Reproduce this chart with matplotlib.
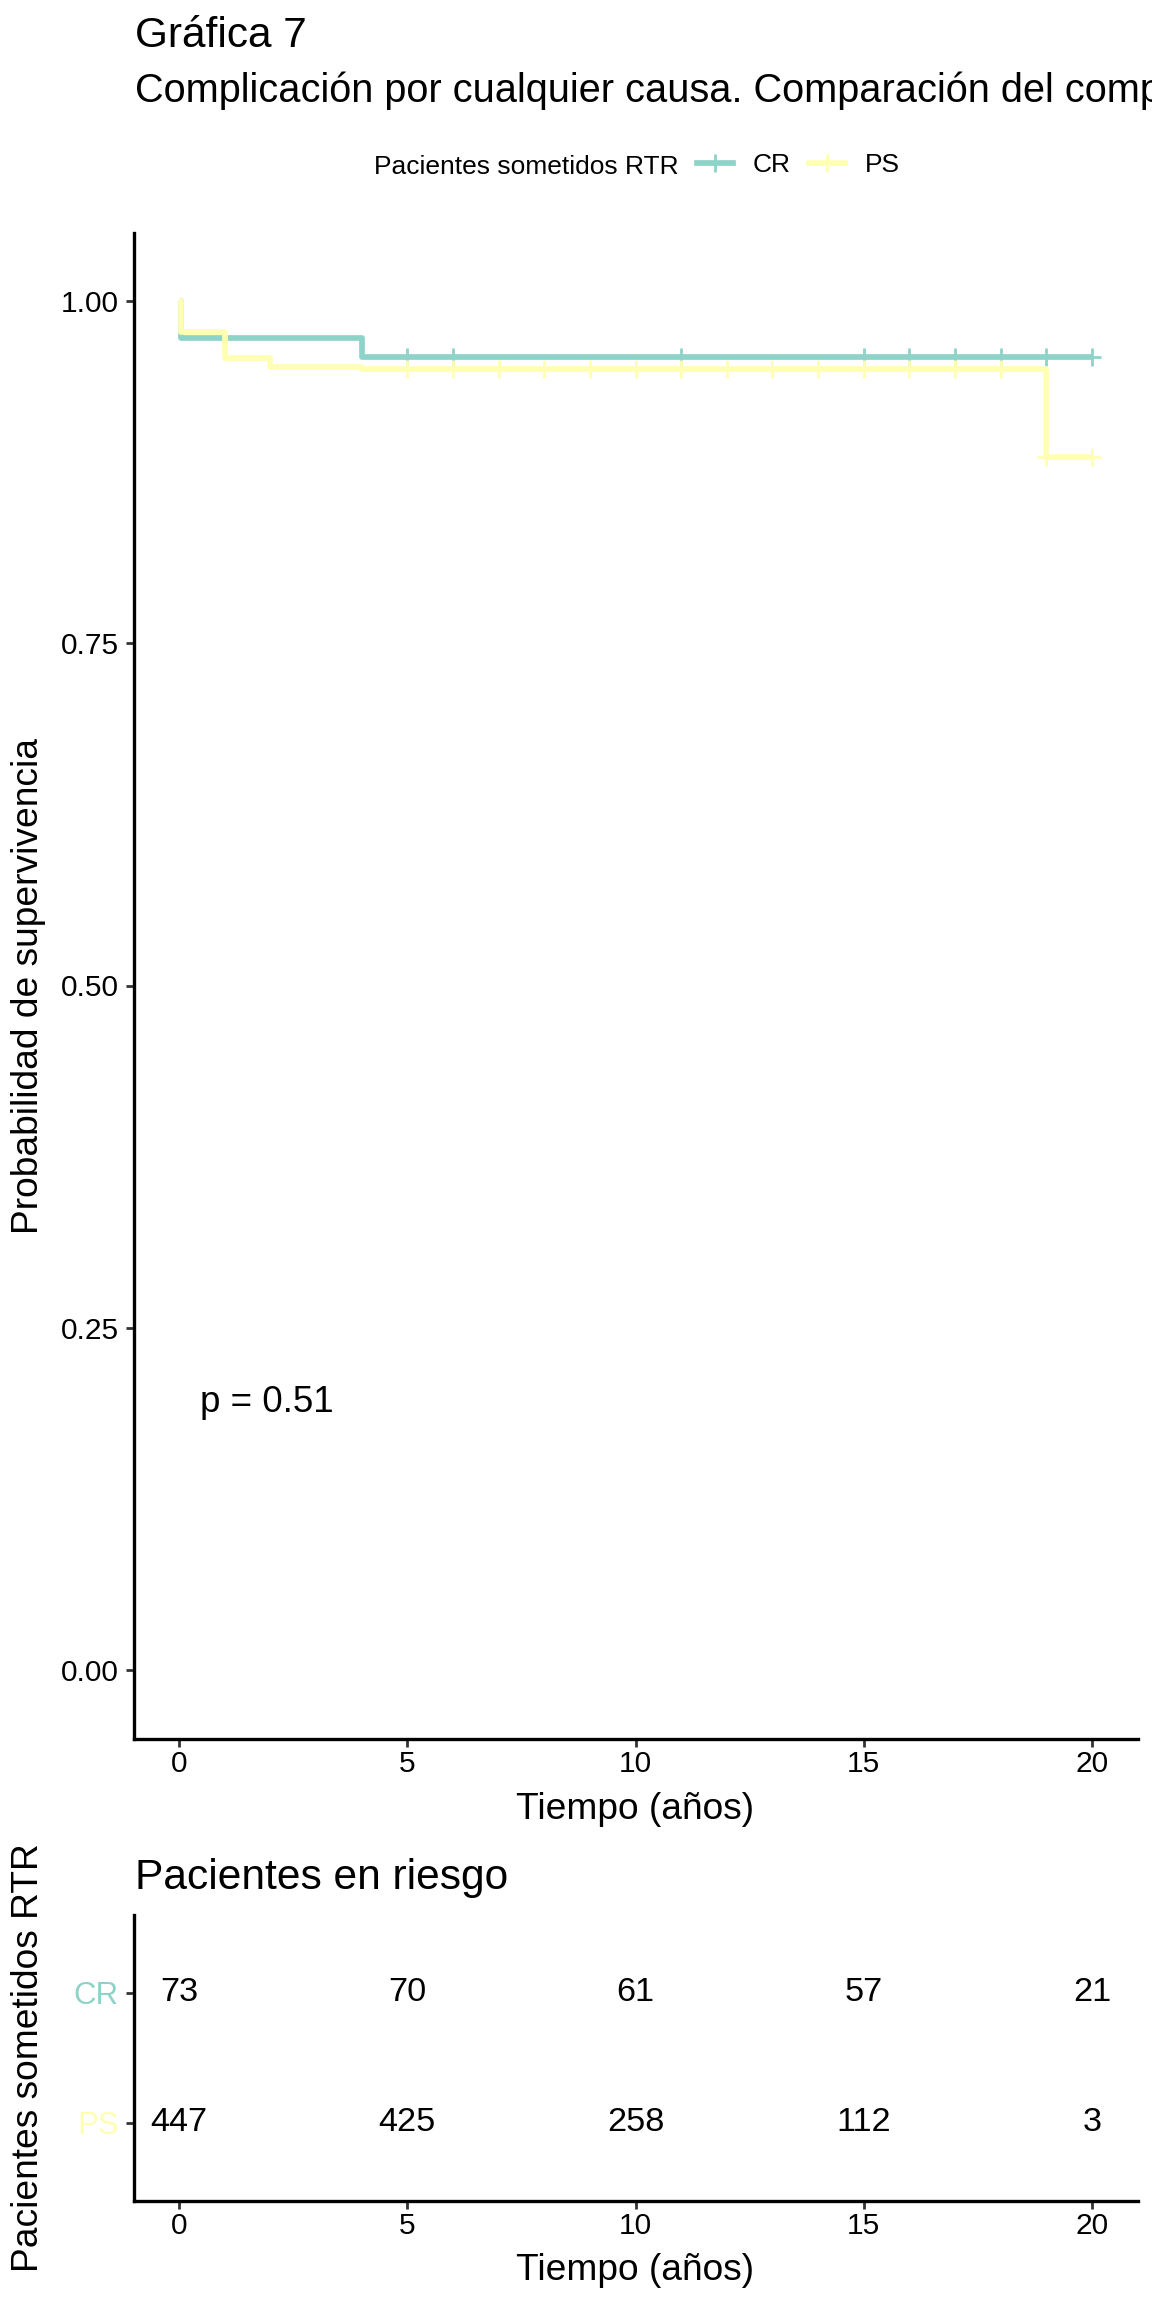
import numpy as np
import matplotlib
matplotlib.use("Agg")
import matplotlib.pyplot as plt
from matplotlib.lines import Line2D

plt.rcParams['font.family'] = ['Liberation Sans', 'DejaVu Sans']

# ---------------- data ----------------
groups = ["CR", "PS"]
colors = {"CR": "#8DD3C7", "PS": "#FFFFB3"}

cr_times = [0.0, 0.03, 4.0]
cr_surv = [1.0, 0.9726, 0.9589]
cr_censor = [5, 6, 11, 15, 16, 17, 18, 19, 20]

ps_times = [0.0, 0.03, 1.0, 2.0, 4.0, 19.0]
ps_surv = [1.0, 0.977, 0.9586, 0.952, 0.9500, 0.886]
ps_censor = [5, 6, 7, 8, 9, 10, 11, 12, 13, 14, 15, 16, 17, 18, 19, 20]

t_max = 20
risk_times = [0, 5, 10, 15, 20]
risk_cr = [73, 70, 61, 57, 21]
risk_ps = [447, 425, 258, 112, 3]

x_ticks = [0, 5, 10, 15, 20]
y_ticks = [0.00, 0.25, 0.50, 0.75, 1.00]
y_ticklabels = ["0.00", "0.25", "0.50", "0.75", "1.00"]

title = "Gráfica 7"
subtitle = "Complicación por cualquier causa. Comparación del comp"
legend_title = "Pacientes sometidos RTR"
pval_text = "p = 0.51"

# ---------------- figure ----------------
W, H = 1152, 2304
fig = plt.figure(figsize=(W / 100, H / 100), dpi=100)


def rect(l, t, r, b):
    return [l / W, 1 - b / H, (r - l) / W, (b - t) / H]


ax = fig.add_axes(rect(133.5, 232.5, 1137.5, 1738.5))
axr = fig.add_axes(rect(133.5, 1915, 1137.5, 2200.5))

lw = 4.1
series = {
    "CR": (cr_times, cr_surv, cr_censor),
    "PS": (ps_times, ps_surv, ps_censor),
}
for g in groups:
    t, s, cens = series[g]
    xs = list(t) + [t_max]
    ys = list(s) + [s[-1]]
    ax.step(xs, ys, where="post", color=colors[g], lw=lw, solid_capstyle="butt",
            zorder=3)
    idx = np.searchsorted(np.array(t), np.array(cens), side="right") - 1
    cy = np.array(s)[idx]
    ax.plot(cens, cy, ls="none", marker="+", ms=13, mew=2.0, color=colors[g],
            zorder=3)

ax.set_xlim(-1, 21)
ax.set_ylim(-0.05, 1.05)
ax.set_xticks(x_ticks)
ax.set_yticks(y_ticks)
ax.set_yticklabels(y_ticklabels)

ax.text(0.46, 0.1885, pval_text, fontsize=26.5, ha="left", va="baseline")

for a in (ax, axr):
    for sp in ("top", "right"):
        a.spines[sp].set_visible(False)
    for sp in ("left", "bottom"):
        a.spines[sp].set_linewidth(2.4)
        a.spines[sp].set_color("black")
    a.tick_params(axis="both", direction="out", length=5.5, width=2.0,
                  color="#333333", labelsize=21.5, labelcolor="black")
    a.tick_params(axis="x", pad=3)
    a.tick_params(axis="y", pad=5)

# risk table
axr.set_xlim(-1, 21)
axr.set_ylim(0.4, 2.6)
axr.set_xticks(x_ticks)
axr.set_yticks([2, 1])
axr.set_yticklabels(groups, fontsize=22.5)
for lbl, g in zip(axr.get_yticklabels(), groups):
    lbl.set_color(colors[g])
for tt, v in zip(risk_times, risk_cr):
    axr.text(tt, 2, str(v), fontsize=24.7, ha="center", va="center")
for tt, v in zip(risk_times, risk_ps):
    axr.text(tt, 1, str(v), fontsize=24.7, ha="center", va="center")

# titles and labels
fig.text(135 / W, 1 - 47 / H, title, fontsize=30.5, ha="left", va="baseline")
fig.text(135 / W, 1 - 102 / H, subtitle, fontsize=28.6, ha="left", va="baseline")
fig.text(135 / W, 1 - 1889 / H, "Pacientes en riesgo", fontsize=30.6, ha="left",
         va="baseline")

fig.text(635 / W, 1 - 1819 / H, "Tiempo (años)", fontsize=26.7, ha="center",
         va="baseline")
fig.text(635 / W, 1 - 2280 / H, "Tiempo (años)", fontsize=26.7, ha="center",
         va="baseline")
fig.text(29 / W, 1 - 985.5 / H, "Probabilidad de supervivencia", fontsize=26.7,
         rotation=90, ha="center", va="center")
fig.text(29 / W, 1 - 2057.5 / H, legend_title, fontsize=26.7, rotation=90,
         ha="center", va="center")

# legend
fig.text(679 / W, 1 - 174 / H, legend_title, fontsize=19, ha="right",
         va="baseline")
handles = [Line2D([], [], color=colors[g], lw=lw, marker="+", ms=13, mew=2.0)
           for g in groups]
fig.legend(handles, groups, loc="center left",
           bbox_to_anchor=(697 / W, 1 - 165 / H), ncol=2, frameon=False,
           fontsize=19, handlelength=1.36, handletextpad=0.74,
           columnspacing=0.72, borderpad=0, borderaxespad=0)

fig.savefig("out.png", dpi=100)
